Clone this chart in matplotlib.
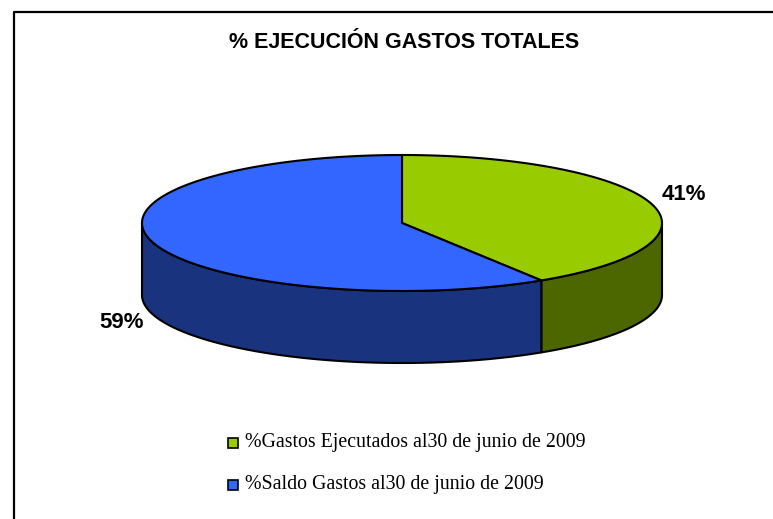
import numpy as np
import matplotlib
matplotlib.use("Agg")
import matplotlib.pyplot as plt
from matplotlib.patches import Polygon, Rectangle
from matplotlib.lines import Line2D

# ---- data ----
title = "% EJECUCIÓN GASTOS TOTALES"
categories = ["%Gastos Ejecutados al30 de junio de 2009",
              "%Saldo Gastos al30 de junio de 2009"]
values = [41, 59]
labels = ["41%", "59%"]
top_colors = ["#99CC00", "#3366FF"]
side_colors = ["#4C6600", "#1A337F"]

W, H = 773, 519
fig = plt.figure(figsize=(W / 100, H / 100), dpi=100)
ax = fig.add_axes([0, 0, 1, 1])
ax.set_xlim(0, W)
ax.set_ylim(H, 0)
ax.axis("off")

# frame (top and left edges visible)
ax.add_line(Line2D([14, 14, W + 5], [H + 5, 12, 12], color="black", lw=1.6))

cx, cy, a, b, depth = 402, 223, 260, 68, 72
lw = 1.5

def pt(t, dy=0.0):
    return cx + a * np.sin(t), cy - b * np.cos(t) + dy

fr = np.array(values, float) / sum(values)
bounds = np.concatenate([[0], np.cumsum(fr)]) * 2 * np.pi

# sides (front half: t in [pi/2, 3pi/2])
for i in range(len(values)):
    t0, t1 = bounds[i], bounds[i + 1]
    s0, s1 = max(t0, np.pi / 2), min(t1, 3 * np.pi / 2)
    if s1 > s0:
        ts = np.linspace(s0, s1, 120)
        xs, ys = pt(ts)
        xb, yb = pt(ts[::-1], depth)
        poly = np.column_stack([np.concatenate([xs, xb]), np.concatenate([ys, yb])])
        ax.add_patch(Polygon(poly, closed=True, facecolor=side_colors[i],
                             edgecolor="black", lw=lw, joinstyle="round"))

# tops
for i in range(len(values)):
    t0, t1 = bounds[i], bounds[i + 1]
    ts = np.linspace(t0, t1, 300)
    xs, ys = pt(ts)
    poly = np.column_stack([np.concatenate([[cx], xs]), np.concatenate([[cy], ys])])
    ax.add_patch(Polygon(poly, closed=True, facecolor=top_colors[i],
                         edgecolor="black", lw=lw, joinstyle="round"))

sans = ["Liberation Sans", "DejaVu Sans"]
ax.text(404, 43, title, ha="center", va="center", fontsize=15.5,
        fontweight="bold", family=sans)

ax.text(684, 195, labels[0], ha="center", va="center", fontsize=16,
        fontweight="bold", family=sans)
ax.text(122, 323, labels[1], ha="center", va="center", fontsize=16,
        fontweight="bold", family=sans)

# legend
serif = ["Liberation Serif", "DejaVu Serif"]
for i, (cat, col) in enumerate(zip(categories, top_colors)):
    y = 443 + i * 42
    ax.add_patch(Rectangle((228, y - 5), 10, 10, facecolor=col,
                           edgecolor="black", lw=1.2))
    ax.text(245, y, cat, ha="left", va="center", fontsize=14.3, family=serif)

fig.savefig("out.png", dpi=100)
